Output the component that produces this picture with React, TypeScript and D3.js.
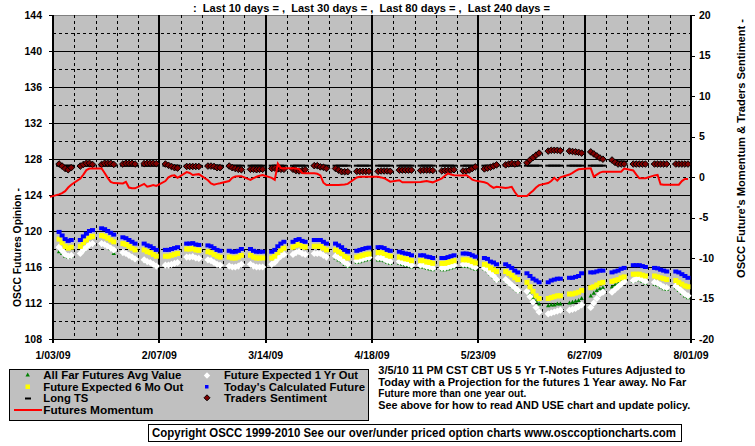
import React from 'react';
import * as d3 from 'd3';

// ---------- DATA ----------
// Trading days: weekdays from Mon 2009-01-05 to Fri 2009-07-31 (30 weeks x 5 days)
const tradingDays: Date[] = d3.utcDay
  .range(new Date(Date.UTC(2009, 0, 5)), new Date(Date.UTC(2009, 7, 1)))
  .filter((d) => d.getUTCDay() !== 0 && d.getUTCDay() !== 6);

const xTickLabels = ['1/03/09', '2/07/09', '3/14/09', '4/18/09', '5/23/09', '6/27/09', '8/01/09'];
const xTickDates = ['2009-01-03', '2009-02-07', '2009-03-14', '2009-04-18', '2009-05-23', '2009-06-27', '2009-08-01'];
const leftTicks = [108, 112, 116, 120, 124, 128, 132, 136, 140, 144];
const rightTicks = [-20, -15, -10, -5, 0, 5, 10, 15, 20];

// Today's Calculated Future (blue, left axis)
const todaysCalculated = [
  119.9, 119.5, 119.1, 118.9, 119.0,
  119.0, 119.4, 119.7, 120.0, 120.1,
  120.3, 120.2, 120.0, 119.8, 119.6,
  119.3, 119.2, 119.0, 118.8, 118.6,
  118.6, 118.4, 118.3, 118.1, 117.9,
  117.9, 117.9, 118.0, 118.1, 118.2,
  118.6, 118.6, 118.65, 118.5, 118.45,
  118.4, 118.3, 118.1, 117.9, 117.8,
  117.8, 117.7, 117.7, 117.8, 118.0,
  118.0, 117.8, 117.7, 117.7, 117.7,
  117.7, 117.9, 118.3, 118.6, 118.8,
  118.8, 119.0, 119.1, 118.9, 118.8,
  119.0, 119.0, 119.0, 118.8, 118.6,
  118.6, 118.4, 118.2, 117.9, 117.7,
  117.8, 117.9, 118.0, 118.1, 118.15,
  118.2, 118.2, 118.1, 117.9, 117.8,
  117.7, 117.6, 117.5, 117.45, 117.3,
  117.3, 117.3, 117.15, 117.1, 117.0,
  117.0, 117.0, 117.1, 117.2, 117.3,
  117.5, 117.5, 117.45, 117.3, 117.15,
  117.0, 116.9, 116.6, 116.5, 116.3,
  116.3, 116.1, 115.9, 115.6, 115.4,
  115.3, 115.0, 114.7, 114.5, 114.3,
  114.3, 114.5, 114.6, 114.7, 114.7,
  114.8, 114.8, 114.9, 115.0, 115.3,
  115.4, 115.4, 115.5, 115.6, 115.6,
  115.4, 115.5, 115.6, 115.8, 115.9,
  116.2, 116.2, 116.2, 116.1, 116.0,
  115.9, 115.85, 115.7, 115.6, 115.5,
  115.5, 115.4, 115.2, 115.0, 114.8,
];

// Future Expected 6 Mo Out (yellow, left axis)
const expected6Mo = [
  119.1, 118.7, 118.3, 118.1, 118.2,
  118.3, 118.7, 119.0, 119.3, 119.4,
  119.5, 119.4, 119.2, 119.0, 118.8,
  118.6, 118.5, 118.3, 118.1, 117.9,
  117.9, 117.7, 117.6, 117.4, 117.2,
  117.2, 117.2, 117.3, 117.4, 117.5,
  118.0, 118.0, 118.05, 117.9, 117.85,
  117.7, 117.6, 117.4, 117.2, 117.1,
  117.1, 117.0, 117.0, 117.1, 117.3,
  117.3, 117.1, 117.0, 117.0, 117.0,
  117.0, 117.2, 117.6, 117.9, 118.1,
  118.2, 118.4, 118.5, 118.3, 118.2,
  118.3, 118.3, 118.3, 118.1, 117.9,
  117.9, 117.7, 117.5, 117.2, 117.0,
  117.1, 117.2, 117.3, 117.4, 117.45,
  117.6, 117.6, 117.5, 117.3, 117.2,
  117.1, 117.0, 116.9, 116.85, 116.7,
  116.7, 116.7, 116.55, 116.5, 116.4,
  116.4, 116.4, 116.5, 116.6, 116.7,
  116.8, 116.8, 116.75, 116.6, 116.45,
  116.3, 116.2, 115.9, 115.7, 115.5,
  115.5, 115.3, 115.1, 114.8, 114.6,
  114.3, 113.8, 113.3, 112.8, 112.5,
  112.5, 112.6, 112.7, 112.8, 112.8,
  113.0, 113.0, 113.1, 113.2, 113.4,
  113.7, 113.8, 114.0, 114.2, 114.3,
  114.4, 114.5, 114.6, 114.8, 114.9,
  115.2, 115.2, 115.2, 115.1, 115.0,
  115.0, 114.9, 114.8, 114.7, 114.6,
  114.5, 114.3, 114.1, 113.9, 113.8,
];

// Future Expected 1 Yr Out (white, left axis)
const expected1Yr = [
  118.2, 117.8, 117.4, 117.2, 117.3,
  117.5, 117.9, 118.2, 118.5, 118.6,
  118.6, 118.5, 118.3, 118.1, 117.9,
  117.6, 117.5, 117.3, 117.1, 116.9,
  116.8, 116.6, 116.5, 116.3, 116.1,
  116.2, 116.2, 116.3, 116.4, 116.5,
  117.1, 117.1, 117.15, 117.0, 116.95,
  116.8, 116.7, 116.5, 116.3, 116.2,
  116.1, 116.0, 116.0, 116.1, 116.3,
  116.3, 116.1, 116.0, 116.0, 116.0,
  116.3, 116.5, 116.9, 117.2, 117.4,
  117.4, 117.6, 117.7, 117.5, 117.4,
  117.5, 117.5, 117.5, 117.3, 117.1,
  117.2, 117.0, 116.8, 116.5, 116.3,
  116.7, 116.8, 116.9, 117.0, 117.05,
  117.0, 117.0, 116.9, 116.7, 116.6,
  116.6, 116.5, 116.4, 116.35, 116.2,
  116.2, 116.2, 116.05, 116.0, 115.9,
  115.9, 115.9, 116.0, 116.1, 116.2,
  116.3, 116.3, 116.25, 116.1, 115.95,
  115.9, 115.7, 115.3, 115.0, 114.6,
  114.6, 114.3, 114.0, 113.7, 113.4,
  113.3, 112.7, 112.1, 111.5, 111.0,
  110.8, 110.9, 111.0, 111.1, 111.2,
  111.2, 111.3, 111.4, 111.6, 111.8,
  111.5, 112.0, 112.5, 113.0, 113.2,
  113.2, 113.5, 113.8, 114.1, 114.4,
  114.5, 114.7, 114.8, 114.6, 114.4,
  114.3, 114.2, 114.0, 113.8, 113.7,
  113.9, 113.6, 113.3, 113.0, 112.8,
];

// All Far Futures Avg Value (green, left axis)
const allFarAvg = [
  117.7, 117.5, 117.2, 117.1, 117.2,
  117.5, 117.9, 118.2, 118.5, 118.6,
  118.6, 118.5, 118.3, 118.0, 117.5,
  117.6, 117.5, 117.3, 117.1, 116.9,
  116.8, 116.6, 116.5, 116.3, 116.1,
  116.2, 116.2, 116.3, 116.4, 116.5,
  117.1, 117.1, 117.15, 117.0, 116.95,
  116.8, 116.7, 116.5, 116.3, 116.2,
  116.1, 116.0, 116.0, 116.1, 116.3,
  116.3, 116.1, 116.0, 116.0, 116.0,
  116.3, 116.5, 116.9, 117.2, 117.4,
  117.4, 117.6, 117.7, 117.5, 117.4,
  117.5, 117.5, 117.5, 117.3, 117.1,
  117.0, 116.8, 116.6, 116.3, 116.1,
  116.5, 116.6, 116.7, 116.8, 116.85,
  116.8, 116.8, 116.7, 116.5, 116.4,
  116.4, 116.3, 116.2, 116.15, 116.0,
  116.0, 116.0, 115.85, 115.8, 115.7,
  115.7, 115.7, 115.8, 115.9, 116.0,
  116.1, 116.1, 116.05, 115.9, 115.75,
  115.8, 115.6, 115.2, 114.9, 114.5,
  114.5, 114.2, 113.9, 113.6, 113.3,
  113.4, 113.0, 112.6, 112.2, 111.9,
  111.7, 111.8, 111.8, 111.9, 111.9,
  112.0, 112.1, 112.2, 112.3, 112.5,
  112.8, 113.1, 113.4, 113.6, 113.7,
  113.8, 114.0, 114.2, 114.4, 114.5,
  114.4, 114.6, 114.6, 114.4, 114.2,
  114.1, 114.0, 113.8, 113.6, 113.5,
  113.7, 113.4, 113.1, 112.8, 112.6,
];

// Traders Sentiment (right axis)
const tradersSentiment = [
  1.6, 1.35, 1.05, 0.9, 1.15,
  1.35, 1.55, 1.7, 1.7, 1.55,
  1.55, 1.7, 1.7, 1.7, 1.55,
  1.6, 1.7, 1.7, 1.7, 1.6,
  1.65, 1.7, 1.7, 1.7, 1.65,
  1.6, 1.45, 1.3, 1.15, 1.1,
  1.3, 1.3, 1.3, 1.3, 1.3,
  1.35, 1.35, 1.3, 1.15, 1.15,
  1.35, 1.15, 1.05, 0.95, 0.9,
  0.95, 0.95, 0.9, 0.95, 0.95,
  1.05, 1.1, 1.0, 0.95, 0.95,
  0.95, 0.8, 0.75, 0.8, 0.9,
  1.4, 1.4, 1.25, 1.2, 1.05,
  1.05, 0.85, 0.65, 0.65, 0.65,
  0.7, 0.7, 0.7, 0.7, 0.7,
  0.7, 0.75, 0.75, 0.75, 0.7,
  0.85, 0.85, 0.85, 0.85, 0.85,
  0.8, 0.85, 0.85, 0.85, 0.8,
  0.75, 0.8, 0.8, 0.85, 0.9,
  0.75, 0.75, 0.85, 1.05, 1.25,
  1.0, 1.1, 1.2, 1.35, 1.5,
  1.5, 1.6, 1.7, 1.6, 1.7,
  1.75, 2.1, 2.4, 2.7, 2.95,
  3.2, 3.3, 3.3, 3.3, 3.25,
  3.2, 3.15, 3.1, 3.05, 2.95,
  3.1, 2.85, 2.6, 2.35, 2.2,
  2.1, 1.8, 1.6, 1.6, 1.6,
  1.6, 1.6, 1.6, 1.6, 1.6,
  1.6, 1.6, 1.6, 1.6, 1.6,
  1.6, 1.6, 1.6, 1.6, 1.6,
];

// Long TS (right axis)
const longTS = [
  1.4, 1.4, 1.4, 1.4, 1.4,
  1.4, 1.4, 1.4, 1.4, 1.4,
  1.4, 1.4, 1.4, 1.4, 1.4,
  1.4, 1.4, 1.4, 1.4, 1.4,
  1.4, 1.4, 1.4, 1.4, 1.4,
  1.4, 1.4, 1.4, 1.4, 1.4,
  1.4, 1.4, 1.4, 1.4, 1.4,
  1.4, 1.4, 1.4, 1.4, 1.4,
  1.4, 1.4, 1.4, 1.4, 1.4,
  1.4, 1.4, 1.4, 1.4, 1.4,
  1.4, 1.4, 1.4, 1.4, 1.4,
  1.4, 1.4, 1.4, 1.4, 1.4,
  1.4, 1.4, 1.4, 1.4, 1.4,
  1.4, 1.4, 1.4, 1.4, 1.4,
  1.4, 1.4, 1.4, 1.4, 1.4,
  1.4, 1.4, 1.4, 1.4, 1.4,
  1.4, 1.4, 1.4, 1.4, 1.4,
  1.4, 1.4, 1.4, 1.4, 1.4,
  1.4, 1.4, 1.4, 1.4, 1.4,
  1.4, 1.4, 1.4, 1.4, 1.4,
  1.4, 1.4, 1.4, 1.4, 1.4,
  1.4, 1.4, 1.4, 1.4, 1.4,
  1.4, 1.4, 1.4, 1.4, 1.4,
  1.4, 1.4, 1.4, 1.4, 1.4,
  1.4, 1.4, 1.4, 1.4, 1.4,
  1.4, 1.4, 1.4, 1.4, 1.4,
  2.0, 2.0, 1.9, 1.9, 1.9,
  1.6, 1.6, 1.6, 1.6, 1.6,
  1.6, 1.6, 1.6, 1.6, 1.6,
  1.6, 1.6, 1.6, 1.6, 1.6,
];

// Futures Momentum (red line, right axis); first value is Fri 2009-01-02
const momentumFirstDate = '2009-01-02';
const futuresMomentum = [
  -2.45,
  -2.15, -2.0, -1.75, -1.3, -0.95,
  -0.2, 0.3, 0.85, 1.05, 1.05,
  1.05, 0.5, -0.1, -0.6, -0.75,
  -0.8, -0.6, -1.3, -1.4, -1.4,
  -0.85, -1.2, -1.1, -1.0, -1.1,
  -0.5, -0.05, 0.15, 0.2, -0.1,
  0.6, 0.5, 0.25, 0.3, 0.35,
  -0.4, -0.8, -0.95, -0.85, -0.78,
  -0.5, -0.1, 0.05, 0.08, 0.1,
  -0.35, -0.15, 0.03, 0.15, 0.25,
  -0.1, -0.35, 1.65, 1.1, 1.07,
  1.07, 1.05, 0.97, 0.5, 0.45,
  0.45, 0.4, 0.2, -0.7, -0.99,
  -0.99, -0.98, -0.95, -0.92, -0.85,
  -0.05, 0.04, 0.04, 0.04, 0.04,
  0.04, -0.05, -0.15, -0.35, -0.58,
  -0.4, -0.65, -0.66, -0.66, -0.66,
  -0.62, -0.55, -0.5, -0.58, -0.66,
  -0.16, 0.15, 0.45, 0.3, 0.22,
  0.18, 0.25, 0.0, -0.32, -0.45,
  -0.65, -0.78, -1.1, -1.35, -1.2,
  -1.37, -1.3, -1.22, -1.85, -2.35,
  -2.35, -2.0, -1.7, -1.3, -1.0,
  -0.75, -0.5, -0.1, -0.45, -0.05,
  0.3, 0.5, 0.75, 0.95, 1.0,
  1.07, 0.05, 0.3, 0.55, 0.66,
  0.66, 0.66, 0.66, 0.66, 1.05,
  0.8, 0.3, -0.16, -0.16, -0.16,
  0.2, 0.25, -0.9, -0.95, -0.95,
  -0.95, -0.95, -0.5, -0.25, -0.25,
];

const titleText = ':  Last 10 days = ,  Last 30 days = ,  Last 80 days = ,  Last 240 days =';
const leftAxisTitle = 'OSCC Futures Opinion -';
const rightAxisTitle = "OSCC Future's Momentum & Traders Sentiment -";
const noteLines = [
  '3/5/10 11 PM CST CBT US 5 Yr T-Notes Futures Adjusted to',
  'Today with a Projection for the futures 1 Year away. No Far',
  'Future more than one year out.',
  'See above for how to read AND USE chart and update policy.',
];
const noteWidths = [307, 308, 148, 312];
const copyrightText = 'Copyright OSCC 1999-2010 See our over/under priced option charts www.osccoptioncharts.com';

// ---------- CHART ----------
const FONT = '"Liberation Sans", Arial, Helvetica, sans-serif';
const P = { left: 53, right: 691, top: 15, bottom: 339 };

const x = d3.scaleUtc().domain([new Date('2009-01-03T00:00:00Z'), new Date('2009-08-01T00:00:00Z')]).range([P.left, P.right]);
const yL = d3.scaleLinear().domain([108, 144]).range([P.bottom, P.top]);
const yR = d3.scaleLinear().domain([-20, 20]).range([P.bottom, P.top]);

const diamond = (cx: number, cy: number, r: number) => `M${cx},${cy - r}L${cx + r},${cy}L${cx},${cy + r}L${cx - r},${cy}Z`;
const triangle = (cx: number, cy: number) => `M${cx},${cy - 2.4}L${cx + 2.2},${cy + 1.6}L${cx - 2.2},${cy + 1.6}Z`;

export default function App() {
  const day0 = new Date('2009-01-03T00:00:00Z').getTime();
  const weekLines = d3.range(0, 211, 7).map((d) => ({ d, date: new Date(day0 + d * 864e5) }));
  const hGrid = d3.range(108, 145, 2);

  const momentumPts: [number, number][] = [
    [x(new Date(momentumFirstDate + 'T00:00:00Z')), yR(futuresMomentum[0])],
    ...tradingDays.map((d, i) => [x(d), yR(futuresMomentum[i + 1])] as [number, number]),
  ];
  const linePath = d3.line()(momentumPts) || '';
  const legendLinePath = d3.line()([[14, 410], [42, 410]]) || '';

  const txt = { fontFamily: FONT, fontWeight: 'bold' as const, fill: '#000' };

  return (
    <svg width={755} height={446} style={{ position: 'absolute', left: 0, top: 0, background: '#fff' }}>
      <rect x={0} y={0} width={755} height={446} fill="#fff" />
      {/* plot area */}
      <rect x={P.left} y={P.top} width={P.right - P.left} height={P.bottom - P.top} fill="#C0C0C0" />
      {/* horizontal grid */}
      {hGrid.map((v) => (
        <line
          key={'h' + v}
          x1={P.left}
          x2={P.right}
          y1={Math.round(yL(v)) + 0.5}
          y2={Math.round(yL(v)) + 0.5}
          stroke={v === 144 ? '#808080' : '#000'}
          strokeWidth={1}
          strokeDasharray={v % 4 === 0 ? undefined : '3,3'}
          shapeRendering="crispEdges"
        />
      ))}
      {/* vertical grid */}
      {weekLines.map(({ d, date }) => {
        const xv = Math.round(x(date));
        const major = d % 35 === 0;
        return (
          <line
            key={'v' + d}
            x1={major ? xv : xv + 0.5}
            x2={major ? xv : xv + 0.5}
            y1={P.top}
            y2={P.bottom}
            stroke="#000"
            strokeWidth={major ? 2 : 1}
            strokeDasharray={major ? undefined : '3,3'}
            shapeRendering="crispEdges"
          />
        );
      })}
      {/* axes */}
      <line x1={P.left} x2={P.right} y1={P.bottom + 0.5} y2={P.bottom + 0.5} stroke="#000" shapeRendering="crispEdges" />
      <line x1={P.right + 0.5} x2={P.right + 0.5} y1={P.top} y2={P.bottom} stroke="#000" shapeRendering="crispEdges" />
      {leftTicks.map((v) => (
        <g key={'lt' + v}>
          <line x1={P.left - 4} x2={P.left} y1={Math.round(yL(v)) + 0.5} y2={Math.round(yL(v)) + 0.5} stroke="#000" shapeRendering="crispEdges" />
          <text x={42} y={yL(v) + 3.8} textAnchor="end" fontSize={10.5} {...txt}>{v}</text>
        </g>
      ))}
      {rightTicks.map((v) => (
        <g key={'rt' + v}>
          <line x1={P.right} x2={P.right + 4} y1={Math.round(yR(v)) + 0.5} y2={Math.round(yR(v)) + 0.5} stroke="#000" shapeRendering="crispEdges" />
          <text x={699} y={yR(v) + 3.8} textAnchor="start" fontSize={10.5} {...txt}>{v}</text>
        </g>
      ))}
      {xTickDates.map((ds, i) => {
        const xv = x(new Date(ds + 'T00:00:00Z'));
        return (
          <g key={'xt' + ds}>
            <line x1={Math.round(xv)} x2={Math.round(xv)} y1={P.bottom} y2={P.bottom + 4} stroke="#000" strokeWidth={2} shapeRendering="crispEdges" />
            <text x={xv} y={359} textAnchor="middle" fontSize={10.5} {...txt}>{xTickLabels[i]}</text>
          </g>
        );
      })}

      {/* series: green, white, yellow, blue (left axis) */}
      {allFarAvg.map((v, i) => (
        <path key={'g' + i} d={triangle(x(tradingDays[i]), yL(v))} fill="#008000" />
      ))}
      {expected1Yr.map((v, i) => (
        <path key={'w' + i} d={diamond(x(tradingDays[i]), yL(v), 3.6)} fill="#FFFFFF" />
      ))}
      {expected6Mo.map((v, i) => (
        <rect key={'y' + i} x={x(tradingDays[i]) - 2.5} y={yL(v) - 2.5} width={5} height={5} fill="#FFFF00" />
      ))}
      {todaysCalculated.map((v, i) => (
        <rect key={'b' + i} x={x(tradingDays[i]) - 2.5} y={yL(v) - 2} width={5} height={4} fill="#0000FF" />
      ))}
      {/* right axis series */}
      {longTS.map((v, i) => (
        <rect key={'l' + i} x={x(tradingDays[i]) - 3} y={yR(v) - 1} width={6} height={2} fill="#000" />
      ))}
      {tradersSentiment.map((v, i) => (
        <path key={'s' + i} d={diamond(x(tradingDays[i]), yR(v), 3.3)} fill="#800000" stroke="#000" strokeWidth={1} />
      ))}
      <path d={linePath} fill="none" stroke="#FF0000" strokeWidth={2} strokeLinejoin="miter" />

      {/* title */}
      <text x={193} y={12} fontSize={11} textLength={357} lengthAdjust="spacingAndGlyphs" style={{ whiteSpace: 'pre' }} {...txt}>
        {titleText}
      </text>
      {/* axis titles */}
      <text transform="translate(20.5,307) rotate(-90)" fontSize={11.5} textLength={119} lengthAdjust="spacingAndGlyphs" {...txt}>
        {leftAxisTitle}
      </text>
      <text transform="translate(745,278) rotate(-90)" fontSize={11.5} textLength={259} lengthAdjust="spacingAndGlyphs" {...txt}>
        {rightAxisTitle}
      </text>

      {/* legend */}
      <rect x={9.5} y={369.5} width={358.5} height={51} fill="#C0C0C0" stroke="#000" strokeWidth={1} shapeRendering="crispEdges" />
      <path d={triangle(27.7, 375)} fill="#008000" />
      <rect x={25.5} y={384.5} width={4.5} height={4.5} fill="#FFFF00" />
      <rect x={25} y={397.5} width={6} height={2} fill="#000" />
      <path d={legendLinePath} stroke="#FF0000" strokeWidth={2} fill="none" />
      <path d={diamond(207, 375.5, 3.2)} fill="#FFFFFF" />
      <rect x={205} y={385} width={3.5} height={3.5} fill="#0000FF" />
      <path d={diamond(207, 397.8, 3)} fill="#800000" stroke="#000" strokeWidth={1} />
      <text x={43.3} y={379} fontSize={11.5} textLength={138} lengthAdjust="spacingAndGlyphs" {...txt}>All Far Futures Avg Value</text>
      <text x={43.3} y={390.7} fontSize={11.5} textLength={140} lengthAdjust="spacingAndGlyphs" {...txt}>Future Expected 6 Mo Out</text>
      <text x={43.3} y={402.3} fontSize={11.5} textLength={45} lengthAdjust="spacingAndGlyphs" {...txt}>Long TS</text>
      <text x={43.3} y={414} fontSize={11.5} textLength={110} lengthAdjust="spacingAndGlyphs" {...txt}>Futures Momentum</text>
      <text x={224} y={379} fontSize={11.5} textLength={134} lengthAdjust="spacingAndGlyphs" {...txt}>Future Expected 1 Yr Out</text>
      <text x={224} y={390.7} fontSize={11.5} textLength={141} lengthAdjust="spacingAndGlyphs" {...txt}>Today's Calculated Future</text>
      <text x={224} y={402.3} fontSize={11.5} textLength={103} lengthAdjust="spacingAndGlyphs" {...txt}>Traders Sentiment</text>

      {/* notes */}
      {noteLines.map((s, i) => (
        <text key={'n' + i} x={378.3} y={373.8 + i * 11.7} fontSize={11.5} textLength={noteWidths[i]} lengthAdjust="spacingAndGlyphs" {...txt}>
          {s}
        </text>
      ))}

      {/* copyright */}
      <rect x={148.5} y={424.5} width={533} height={16.5} fill="#fff" stroke="#000" strokeWidth={1} shapeRendering="crispEdges" />
      <text x={152} y={436.5} fontSize={12} textLength={524} lengthAdjust="spacingAndGlyphs" {...txt}>{copyrightText}</text>
    </svg>
  );
}
